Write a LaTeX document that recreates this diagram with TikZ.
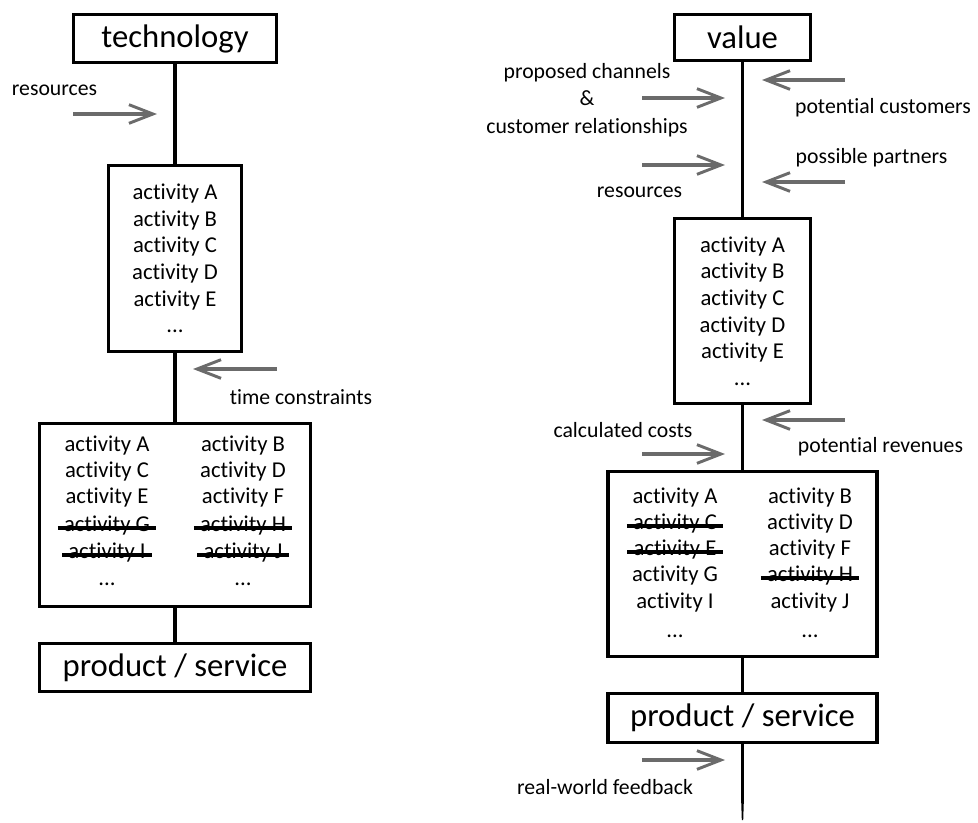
\documentclass[tikz,border=0pt]{standalone}
\usepackage{fontspec}
\setmainfont{Carlito}[Ligatures={NoCommon,NoRare,NoContextual}]
\usetikzlibrary{arrows.meta}
\newcommand{\flowcolor}{black!58}
\newcommand{\boxline}{2.6pt}
\newcommand{\spineline}{2.3pt}
\tikzset{
  bigbox/.style={draw, line width=\boxline, inner sep=0pt, font=\fontsize{24.5}{28}\selectfont},
  actbox/.style={draw, line width=\boxline, inner sep=0pt, align=center, font=\fontsize{17}{20}\selectfont},
  act/.style={inner sep=0pt, anchor=mid, font=\fontsize{17}{20}\selectfont},
  lbl/.style={inner sep=0pt, align=center, font=\fontsize{16.3}{20.5}\selectfont},
  spine/.style={line width=\spineline},
  feed/.style={draw=\flowcolor, line width=3pt, -{Straight Barb[length=18pt,width=14pt,line width=2.2pt]}},
  struck/.style={line width=\spineline},
}

\begin{document}
\begin{tikzpicture}[x=0.75pt,y=-0.75pt]
\useasboundingbox (0,0) rectangle (978,822);
%left
\node[bigbox, minimum width=152pt, minimum height=36pt] (ltech) at (175,38.5) {technology};
\node[actbox, minimum width=100pt, minimum height=139.5pt] (lacts) at (175,258.5) {activity A\\activity B\\activity C\\activity D\\activity E\\...};
\node[draw, line width=\boxline, minimum width=203pt, minimum height=137pt] (ltwo) at (175,515) {};
\node[bigbox, minimum width=203pt, minimum height=36pt] (lprod) at (175,667.5) {product / service};
\draw[spine] (ltech.south) -- (lacts.north);
\draw[spine] (lacts.south) -- (ltwo.north);
\draw[spine] (ltwo.south) -- (lprod.north);
%left rows
\node[act] (la1) at (107,448) {activity A};
\node[act] (la2) at (107,474) {activity C};
\node[act] (la3) at (107,500) {activity E};
\node[act] (la4) at (107,528) {activity G};
\node[act] (la5) at (107,555) {activity I};
\node[act] (la6) at (107,582) {...};
\node[act] (lb1) at (243,448) {activity B};
\node[act] (lb2) at (243,474) {activity D};
\node[act] (lb3) at (243,500) {activity F};
\node[act] (lb4) at (243,528) {activity H};
\node[act] (lb5) at (243,555) {activity J};
\node[act] (lb6) at (243,582) {...};
\draw[struck] ([xshift=-4.5pt]la4.mid west) -- ([xshift=4.5pt]la4.mid east);
\draw[struck] ([xshift=-4.5pt]la5.mid west) -- ([xshift=4.5pt]la5.mid east);
\draw[struck] ([xshift=-4.5pt]lb4.mid west) -- ([xshift=4.5pt]lb4.mid east);
\draw[struck] ([xshift=-4.5pt]lb5.mid west) -- ([xshift=4.5pt]lb5.mid east);
%left inputs
\node[lbl] (lres) at (54.5,90) {resources};
\coordinate (lres0) at (73,114);
\coordinate (lres1) at (157,114);
\draw[feed] (lres0) -- (lres1);
\node[lbl] (ltime) at (301,397) {time constraints};
\coordinate (ltime0) at (277,369);
\coordinate (ltime1) at (193,369);
\draw[feed] (ltime0) -- (ltime1);
%right
\node[bigbox, minimum width=102pt, minimum height=34.5pt] (rval) at (742.5,37.5) {value};
\node[actbox, minimum width=102pt, minimum height=139pt] (racts) at (742.5,311) {activity A\\activity B\\activity C\\activity D\\activity E\\...};
\node[draw, line width=\boxline, minimum width=202pt, minimum height=139pt] (rtwo) at (742.5,564) {};
\node[bigbox, minimum width=202pt, minimum height=37pt] (rprod) at (742.5,718) {product / service};
\coordinate (rtail) at (742.5,800);
\draw[spine] (rval.south) -- (racts.north);
\draw[spine] (racts.south) -- (rtwo.north);
\draw[spine] (rtwo.south) -- (rprod.north);
\draw[spine] (rprod.south) -- (rtail);
\fill (741.1,799) -- (743.9,799) -- (743.2,820) -- (741.8,820) -- cycle;
%right rows
\node[act] (ra1) at (675,500) {activity A};
\node[act] (ra2) at (675,526) {activity C};
\node[act] (ra3) at (675,552) {activity E};
\node[act] (ra4) at (675,578) {activity G};
\node[act] (ra5) at (675,605) {activity I};
\node[act] (ra6) at (675,634) {...};
\node[act] (rb1) at (810,500) {activity B};
\node[act] (rb2) at (810,526) {activity D};
\node[act] (rb3) at (810,552) {activity F};
\node[act] (rb4) at (810,578) {activity H};
\node[act] (rb5) at (810,605) {activity J};
\node[act] (rb6) at (810,634) {...};
\draw[struck] ([xshift=-4.5pt]ra2.mid west) -- ([xshift=4.5pt]ra2.mid east);
\draw[struck] ([xshift=-4.5pt]ra3.mid west) -- ([xshift=4.5pt]ra3.mid east);
\draw[struck] ([xshift=-4.5pt]rb4.mid west) -- ([xshift=4.5pt]rb4.mid east);
%right inputs
\node[lbl] (rchan) at (587,100) {proposed channels\\\&\\customer relationships};
\coordinate (rchan0) at (642,98);
\coordinate (rchan1) at (725,98);
\draw[feed] (rchan0) -- (rchan1);
\node[lbl] (rres) at (639.5,192) {resources};
\coordinate (rres0) at (642,165);
\coordinate (rres1) at (725,165);
\draw[feed] (rres0) -- (rres1);
\node[lbl] (rcust) at (883,108) {potential customers};
\coordinate (rcust0) at (845,80);
\coordinate (rcust1) at (762,80);
\draw[feed] (rcust0) -- (rcust1);
\node[lbl] (rpart) at (871.5,158) {possible partners};
\coordinate (rpart0) at (845,182);
\coordinate (rpart1) at (762,182);
\draw[feed] (rpart0) -- (rpart1);
\node[lbl] (rrev) at (880.5,447) {potential revenues};
\coordinate (rrev0) at (845,420);
\coordinate (rrev1) at (762,420);
\draw[feed] (rrev0) -- (rrev1);
\node[lbl] (rcost) at (623,430) {calculated costs};
\coordinate (rcost0) at (642,454);
\coordinate (rcost1) at (725,454);
\draw[feed] (rcost0) -- (rcost1);
\node[lbl] (rfeed) at (605,787) {real-world feedback};
\coordinate (rfeed0) at (642,760);
\coordinate (rfeed1) at (725,760);
\draw[feed] (rfeed0) -- (rfeed1);
\end{tikzpicture}
\end{document}
